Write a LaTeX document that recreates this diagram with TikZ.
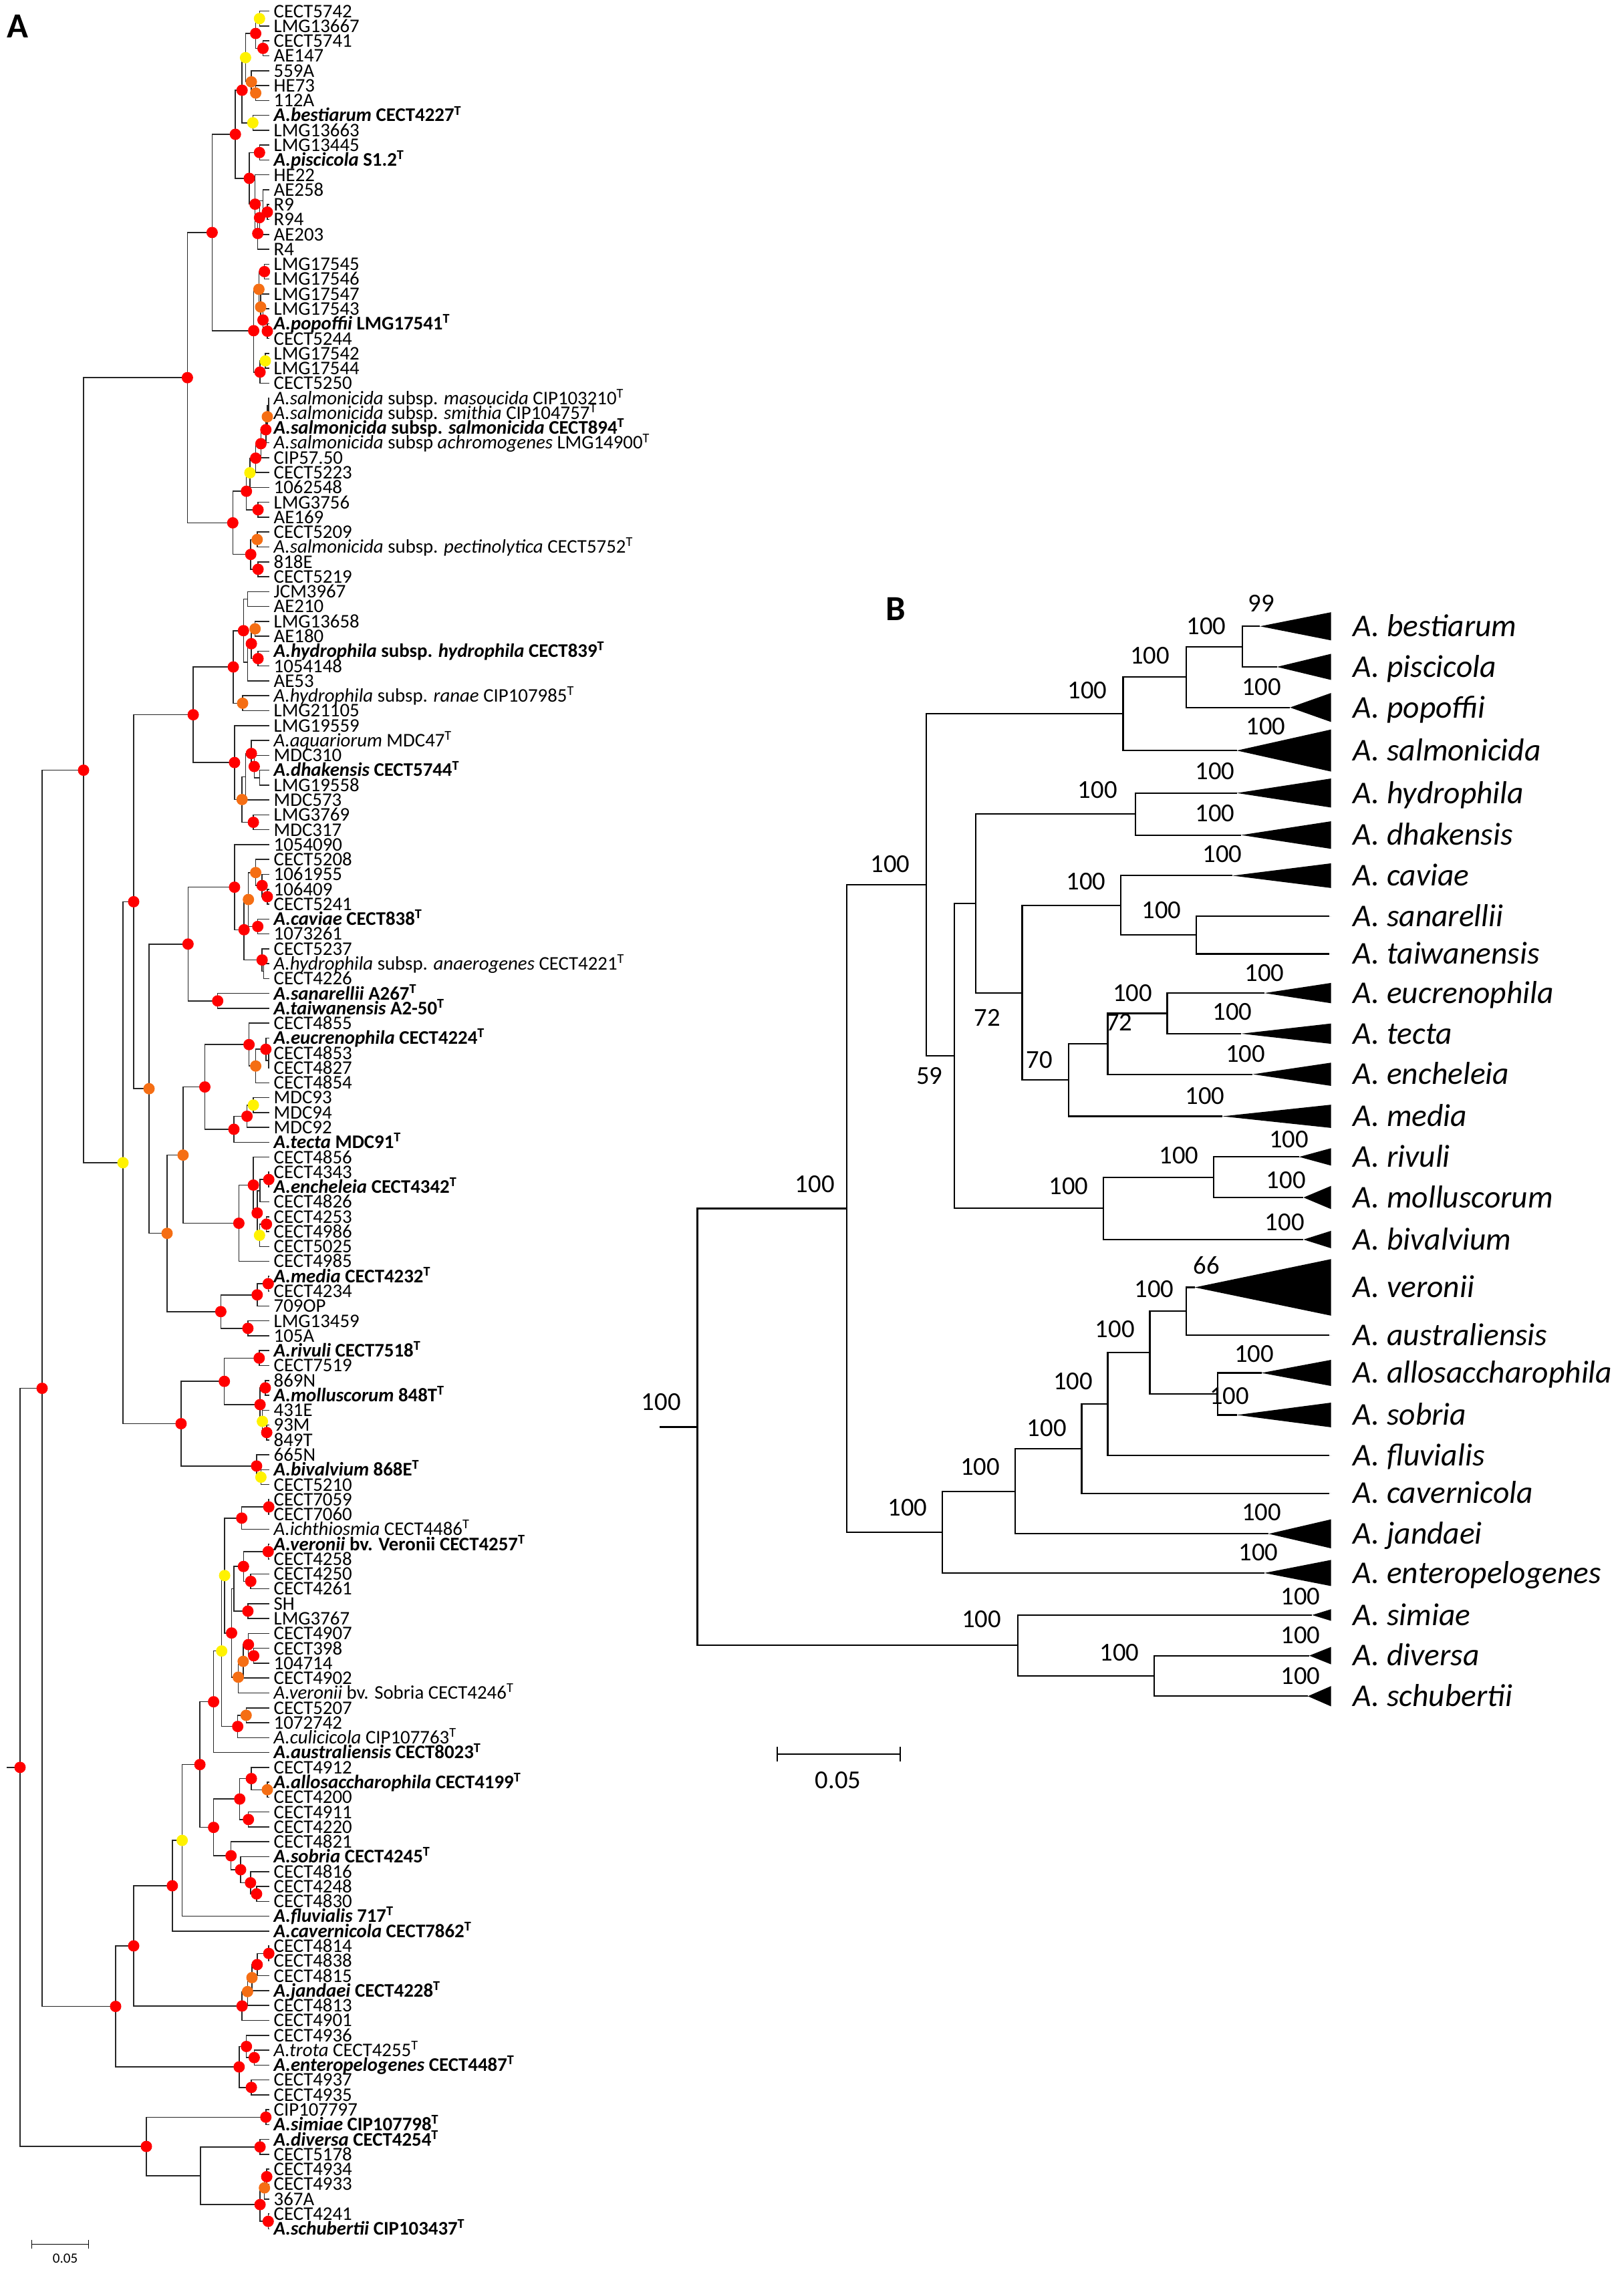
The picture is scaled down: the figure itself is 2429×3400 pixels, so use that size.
\documentclass[tikz,border=0pt]{standalone}
\usepackage{fontspec}
\setmainfont{Carlito}
\usetikzlibrary{calc}
\definecolor{dotorange}{RGB}{245,110,20}
\newcommand\ty{\textsuperscript{T}}
\newcommand\tsp[2]{\textbf{\textit{#1} #2\ty}}
\newcommand\nsp[2]{\textit{#1} #2\ty}
% join two children at horizontal position #2
\newcommand\jn[4]{%
  \coordinate (#1m) at ($(#3)!.5!(#4)$);
  \coordinate (#1) at (#1m -| #2,0);
  \draw[branch] (#3) -| (#1) |- (#4);}

\begin{document}
\begin{tikzpicture}[x=0.01cm,y=-0.01cm,
  branch/.style={draw=black!85,line width=0.45pt},
  leaf node/.style={anchor=west,inner sep=0pt,xshift=0.06cm,font=\fontsize{8.2}{8.2}\selectfont,text height=5.3pt,text depth=0pt},
  red node/.style={circle,fill=red,inner sep=0pt,minimum size=0.17cm},
  orange node/.style={red node,fill=dotorange},
  yellow node/.style={red node,fill=yellow},
  sp node/.style={anchor=west,inner sep=0pt,font=\fontsize{13.5}{14}\selectfont\itshape,text height=8.7pt,text depth=0pt},
  boot node/.style={inner sep=0pt,font=\fontsize{11}{11}\selectfont},
  panel node/.style={inner sep=0pt,font=\fontsize{15}{15}\selectfont\bfseries}]
\useasboundingbox (0,0) rectangle (2429,3400);

% ---- panel A
\begin{scope}[y=-0.2226cm,yshift=0.0556cm]
\foreach \t [count=\i] in {CECT5742, LMG13667, CECT5741, AE147, 559A, HE73, 112A,
  \tsp{A.bestiarum}{CECT4227}, LMG13663, LMG13445, \tsp{A.piscicola}{S1.2}, HE22, AE258, R9, R94, AE203, R4,
  LMG17545, LMG17546, LMG17547, LMG17543, \tsp{A.popoffii}{LMG17541}, CECT5244, LMG17542, LMG17544, CECT5250,
  \textit{A.salmonicida} subsp. \textit{masoucida} CIP103210\ty,
  \textit{A.salmonicida} subsp. \textit{smithia} CIP104757\ty,
  \textbf{\textit{A.salmonicida} subsp. \textit{salmonicida} CECT894\ty},
  \textit{A.salmonicida} subsp \textit{achromogenes} LMG14900\ty,
  CIP57.50, CECT5223, 1062548, LMG3756, AE169, CECT5209,
  \textit{A.salmonicida} subsp. \textit{pectinolytica} CECT5752\ty,
  818E, CECT5219, JCM3967, AE210, LMG13658, AE180,
  \textbf{\textit{A.hydrophila} subsp. \textit{hydrophila} CECT839\ty},
  1054148, AE53, \textit{A.hydrophila} subsp. \textit{ranae} CIP107985\ty,
  LMG21105, LMG19559, \nsp{A.aquariorum}{MDC47}, MDC310, \tsp{A.dhakensis}{CECT5744}, LMG19558, MDC573, LMG3769, MDC317,
  1054090, CECT5208, 1061955, 106409, CECT5241, \tsp{A.caviae}{CECT838}, 1073261, CECT5237,
  \textit{A.hydrophila} subsp. \textit{anaerogenes} CECT4221\ty,
  CECT4226, \tsp{A.sanarellii}{A267}, \tsp{A.taiwanensis}{A2-50},
  CECT4855, \tsp{A.eucrenophila}{CECT4224}, CECT4853, CECT4827, CECT4854, MDC93, MDC94, MDC92, \tsp{A.tecta}{MDC91},
  CECT4856, CECT4343, \tsp{A.encheleia}{CECT4342}, CECT4826, CECT4253, CECT4986, CECT5025, CECT4985,
  \tsp{A.media}{CECT4232}, CECT4234, 709OP, LMG13459, 105A,
  \tsp{A.rivuli}{CECT7518}, CECT7519, 869N, \tsp{A.molluscorum}{848T}, 431E, 93M, 849T, 665N, \tsp{A.bivalvium}{868E}, CECT5210,
  CECT7059, CECT7060, \nsp{A.ichthiosmia}{CECT4486}, \textbf{\textit{A.veronii} bv. Veronii CECT4257\ty},
  CECT4258, CECT4250, CECT4261, SH, LMG3767, CECT4907, CECT398, 104714, CECT4902,
  \textit{A.veronii} bv. Sobria CECT4246\ty, CECT5207, 1072742, \nsp{A.culicicola}{CIP107763}, \tsp{A.australiensis}{CECT8023},
  CECT4912, \tsp{A.allosaccharophila}{CECT4199}, CECT4200, CECT4911, CECT4220, CECT4821, \tsp{A.sobria}{CECT4245},
  CECT4816, CECT4248, CECT4830, \tsp{A.fluvialis}{717}, \tsp{A.cavernicola}{CECT7862},
  CECT4814, CECT4838, CECT4815, \tsp{A.jandaei}{CECT4228}, CECT4813, CECT4901,
  CECT4936, \nsp{A.trota}{CECT4255}, \tsp{A.enteropelogenes}{CECT4487}, CECT4937, CECT4935,
  CIP107797, \tsp{A.simiae}{CIP107798}, \tsp{A.diversa}{CECT4254}, CECT5178, CECT4934, CECT4933, 367A, CECT4241,
  \tsp{A.schubertii}{CIP103437}}{
  \coordinate (t\i) at (403,\i);
  \node[leaf node] (l\i) at (t\i) {\t};
}
% bestiarum, piscicola
\jn{be1}{388.3}{t1}{t2}   \jn{be2}{393.5}{t3}{t4}   \jn{be3}{382.6}{be1}{be2}
\jn{be4}{382.6}{t6}{t7}   \jn{be5}{376.1}{t5}{be4}  \jn{be6}{367.4}{be3}{be5}
\jn{be7}{378.3}{t8}{t9}   \jn{be8}{362.2}{be6}{be7}
\jn{pi1}{388.3}{t10}{t11} \jn{pi2}{400}{t14}{t15}   \jn{pi3}{393.5}{t13}{pi2}
\jn{pi4}{388.3}{pi3}{t16} \jn{pi5}{385.7}{pi4}{t17} \jn{pi6}{381.7}{t12}{pi5}
\jn{pi7}{373}{pi1}{pi6}   \jn{be9}{352.2}{be8}{pi7}
% popoffii
\jn{po1}{395.7}{t18}{t19} \jn{po2}{400}{t22}{t23}   \jn{po3}{393.5}{t21}{po2}
\jn{po4}{390}{t20}{po3}   \jn{po5}{387.4}{po1}{po4} \jn{po6}{397}{t24}{t25}
\jn{po7}{389.1}{po6}{t26} \jn{po8}{379.6}{po5}{po7} \jn{bp}{317.4}{be9}{po8}
% salmonicida
\jn{sa1}{402.2}{t27}{t28} \jn{sa2}{400}{sa1}{t29}   \jn{sa3}{397.8}{sa2}{t30}
\jn{sa4}{390.4}{sa3}{t31} \jn{sa5}{382.6}{sa4}{t32} \jn{sa6}{373.9}{sa5}{t33}
\jn{sa7}{386.1}{t34}{t35} \jn{sa8}{368.7}{sa6}{sa7} \jn{sa9}{384.8}{t36}{t37}
\jn{sa10}{386.1}{t38}{t39} \jn{sa11}{375.2}{sa9}{sa10} \jn{sa12}{348.3}{sa8}{sa11}
\jn{bps}{280.4}{bp}{sa12}
% hydrophila, dhakensis
\jn{hy1}{370.4}{t40}{t41} \jn{hy2}{381.7}{t42}{t43} \jn{hy3}{386.1}{t44}{t45}
\jn{hy4}{376.1}{hy2}{hy3} \jn{hy5}{370.4}{hy4}{t46} \jn{hy6}{364.3}{hy1}{hy5}
\jn{hy7}{363}{t47}{t48}   \jn{hy8}{349.1}{hy6}{hy7}
\jn{dh1}{388.3}{t52}{t53} \jn{dh2}{380.4}{t51}{dh1} \jn{dh3}{376.1}{t50}{dh2}
\jn{dh4}{367.4}{dh3}{t54} \jn{dh5}{379.1}{t55}{t56} \jn{dh6}{362.2}{dh4}{dh5}
\jn{dh7}{350.9}{t49}{dh6} \jn{hd}{289.1}{hy8}{dh7}
% caviae, sanarellii, taiwanensis
\jn{ca1}{400}{t60}{t61}   \jn{ca2}{392.2}{t59}{ca1} \jn{ca3}{382.6}{t58}{ca2}
\jn{ca4}{385.7}{t62}{t63} \jn{ca5}{371.7}{ca3}{ca4} \jn{ca6}{394.3}{t65}{t66}
\jn{ca7}{392.2}{t64}{ca6} \jn{ca8}{365.2}{ca5}{ca7} \jn{ca9}{350.9}{t57}{ca8}
\jn{st}{325.7}{t67}{t68}  \jn{cst}{281.3}{ca9}{st}
% eucrenophila, tecta, encheleia, media
\jn{eu1}{402.2}{t71}{t72} \jn{eu2}{397.8}{t70}{eu1} \jn{eu3}{382.6}{eu2}{t73}
\jn{eu4}{372.6}{t69}{eu3} \jn{te1}{379.1}{t74}{t75} \jn{te2}{369.6}{te1}{t76}
\jn{te3}{350}{te2}{t77}   \jn{et}{306.5}{eu4}{te3}
\jn{en1}{402.2}{t79}{t80} \jn{en2}{389.1}{en1}{t81} \jn{en3}{398.7}{t82}{t83}
\jn{en4}{388.3}{en3}{t84} \jn{en5}{384.8}{en2}{en4} \jn{en6}{379.1}{t78}{en5}
\jn{en7}{357.4}{en6}{t85} \jn{ete}{273.9}{et}{en7}
\jn{me1}{401.3}{t86}{t87} \jn{me2}{384.8}{me1}{t88} \jn{me3}{370.9}{t89}{t90}
\jn{me4}{330.4}{me2}{me3} \jn{em}{250}{ete}{me4}
% rivuli, molluscorum, bivalvium
\jn{ri1}{387.8}{t91}{t92} \jn{mo1}{397}{t93}{t94}   \jn{mo2}{399.1}{t96}{t97}
\jn{mo3}{392.6}{t95}{mo2} \jn{mo4}{389.1}{mo1}{mo3} \jn{rm}{335.7}{ri1}{mo4}
\jn{bi1}{390.4}{t99}{t100} \jn{bi2}{383.9}{t98}{bi1} \jn{rmb}{270.9}{rm}{bi2}
\jn{k3}{223}{cst}{em}     \jn{k2}{200}{hd}{k3}     \jn{k1}{184}{k2}{rmb}
\jn{ag}{125}{bps}{k1}
% veronii and relatives
\jn{ve1}{402.2}{t101}{t102} \jn{ve2}{361.7}{ve1}{t103} \jn{ve3}{401.3}{t104}{t105}
\jn{ve4}{375.2}{t106}{t107} \jn{ve5}{364.3}{ve3}{ve4}  \jn{ve6}{370.9}{t108}{t109}
\jn{ve7}{350}{ve5}{ve6}     \jn{ve8}{379.6}{t111}{t112} \jn{ve9}{371.7}{t110}{ve8}
\jn{ve10}{363.9}{ve9}{t113} \jn{ve11}{356.5}{ve10}{t114} \jn{ve12}{346.5}{ve7}{ve11}
\jn{ve13}{336.1}{ve2}{ve12} \jn{cu1}{368.3}{t115}{t116} \jn{cu2}{355.7}{cu1}{t117}
\jn{ve14}{331.7}{ve13}{cu2} \jn{ve15}{319.6}{ve14}{t118}
\jn{al1}{400}{t120}{t121}   \jn{al2}{376.1}{t119}{al1} \jn{al3}{371.7}{t122}{t123}
\jn{al4}{358.7}{al2}{al3}   \jn{so1}{383.9}{t127}{t128} \jn{so2}{374.8}{t126}{so1}
\jn{so3}{360}{t125}{so2}    \jn{so4}{345.7}{t124}{so3} \jn{as}{319.6}{al4}{so4}
\jn{vas}{299.1}{ve15}{as}   \jn{vf}{272.6}{vas}{t129}  \jn{vc}{257.8}{vf}{t130}
% jandaei, enteropelogenes
\jn{ja1}{402.2}{t131}{t132} \jn{ja2}{384.8}{ja1}{t133} \jn{ja3}{377}{ja2}{t134}
\jn{ja4}{370.4}{ja3}{t135}  \jn{ja5}{362.2}{ja4}{t136} \jn{vj}{200}{vc}{ja5}
\jn{tr1}{380.4}{t138}{t139} \jn{tr2}{368.7}{t137}{tr1} \jn{tr3}{376.1}{t140}{t141}
\jn{tr4}{357.8}{tr2}{tr3}   \jn{ve}{173}{vj}{tr4}      \jn{top}{63}{ag}{ve}
% simiae, diversa, schubertii
\jn{si1}{397.8}{t142}{t143} \jn{di1}{389.1}{t144}{t145} \jn{sc1}{401.3}{t149}{t150}
\jn{sc2}{399.1}{t146}{t147} \jn{sc3}{395.7}{sc2}{t148} \jn{sc4}{389.1}{sc3}{sc1}
\jn{ds}{300}{di1}{sc4}      \jn{sds}{219}{si1}{ds}     \jn{root}{30}{top}{sds}
\draw[branch] (root) -- ++(-20,0);

\foreach \n in {be2,be3,be8,pi1,pi2,pi4,pi5,pi6,pi7,be9,po1,po2,po3,po7,po8,bp,sa3,sa4,sa5,sa7,sa8,
  sa10,sa11,sa12,bps,hy3,hy4,hy6,hy8,dh2,dh3,dh5,dh7,hd,ca1,ca2,ca4,ca7,ca8,ca9,st,cst,eu2,eu4,te2,te3,
  et,en1,en3,en5,en6,en7,me1,me2,me3,me4,ri1,mo1,mo2,mo4,rm,bi2,rmb,k2,ag,ve1,ve2,ve3,ve4,ve5,ve6,ve8,
  ve9,ve12,cu2,ve15,al2,al3,al4,so1,so2,so3,so4,as,vas,vc,ja1,ja2,ja5,vj,tr1,tr2,tr3,tr4,ve,top,si1,
  di1,sc1,sc2,sc4,sds,root}
  \node[red node] (d\n) at (\n) {};
\foreach \n in {be1,be6,be7,po6,sa6,te1,en4,mo3,bi1,ve13,ve14,vf,k1}
  \node[yellow node] (d\n) at (\n) {};
\foreach \n in {be4,be5,po4,po5,sa2,sa9,hy2,hy7,dh6,ca3,ca5,eu3,ete,em,ve10,ve11,cu1,al1,ja3,ja4,sc3,k3}
  \node[orange node] (d\n) at (\n) {};
\end{scope}

% ---- panel B
\begin{scope}[x=0.021688cm,y=-0.021684cm,branch/.append style={draw=black,line width=0.6pt}]
\node[panel node] (pA) at (12,18) {A};
\node[panel node] (pB) at (618,420) {B};
\foreach \n/\x/\y/\h/\s in {bes/869/432/9.7/bestiarum, pis/880.7/460/9/piscicola, pop/889.7/488/10/popoffii,
  sal/853/517.7/14.5/salmonicida, hyd/853/547/10/hydrophila, dha/856/576/9.5/dhakensis, cav/850/604/8.5/caviae,
  san/917/632/0/sanarellii, tai/917/658/0/taiwanensis, euc/872/685/7/eucrenophila, tec/856/713/7/tecta,
  enc/864/741/8/encheleia, med/843/770/8/media, riv/896/798/6/rivuli, mol/899/826/8/molluscorum,
  biv/899/855/6/bivalvium, ver/824/888/19.5/veronii, aus/917/921/0/australiensis,
  all/870/947/9/allosaccharophila, sob/853/976/8.5/sobria, flu/917/1004/0/fluvialis,
  cve/917/1030/0/cavernicola, jan/875/1058/10/jandaei, ent/872/1085/9/enteropelogenes,
  sim/905/1114/4/simiae, div/903/1142/6/diversa, sch/902/1170/7/schubertii}{
  \coordinate (\n) at (\x,\y);
  \fill (\n) -- (918,{\y-\h}) -- (918,{\y+\h}) -- cycle;
  \node[sp node] (n\n) at (933,\y) {A. \s};
}
\jn{Bbp}{857}{bes}{pis}    \jn{Bbpp}{818}{Bbp}{pop}  \jn{Bbs}{774.6}{Bbpp}{sal}
\jn{Bhd}{783}{hyd}{dha}    \jn{Bst}{825}{san}{tai}   \jn{Bcv}{773}{cav}{Bst}
\jn{Bet}{805}{euc}{tec}    \jn{Ben}{764}{Bet}{enc}   \jn{Bme}{737}{Ben}{med}
\jn{Bcm}{705}{Bcv}{Bme}    \jn{Bhc}{672.8}{Bhd}{Bcm} \jn{Brm}{837}{riv}{mol}
\jn{Brb}{761}{Brm}{biv}    \jn{Bfs}{658}{Bhc}{Brb}   \jn{Bup}{638.7}{Bbs}{Bfs}
\jn{Bva}{818}{ver}{aus}    \jn{Bas}{840}{all}{sob}   \jn{Bvs}{793}{Bva}{Bas}
\jn{Bvf}{764}{Bvs}{flu}    \jn{Bvc}{746}{Bvf}{cve}   \jn{Bvj}{700}{Bvc}{jan}
\jn{Bve}{650}{Bvj}{ent}    \jn{Bu}{584}{Bup}{Bve}
\jn{Bds}{796}{div}{sch}    \jn{Bsd}{702}{sim}{Bds}   \jn{Broot}{481}{Bu}{Bsd}
\draw[branch] (Broot) -- ++(-26,0);

\foreach \x/\y/\v [count=\k] in {870/416/99, 832/432/100, 793/452/100, 870/474/100, 750/476/100,
  873/501/100, 757/545/100, 838/532/100, 838/561/100, 843/589/100, 614/596/100, 749/608/100,
  801/628/100, 872/671/100, 781/685/100, 681/702/72, 772/705/72, 850/698/100, 717/731/70,
  859/727/100, 641/742/59, 831/756/100, 889/786/100, 813/797/100, 887/814/100, 737/818/100,
  562/817/100, 886/843/100, 832/873/66, 796/889/100, 769/917/100, 865/934/100, 740/953/100,
  848/963/100, 722/985/100, 456/967/100, 676/1012/100, 626/1040/100, 870/1043/100, 868/1071/100,
  677/1117/100, 897/1101/100, 772/1140/100, 897/1128/100, 897/1156/100}
  \node[boot node] (bv\k) at (\x,\y) {\v};

% scale bars
\coordinate (sa) at (22,1548);  \coordinate (sb) at (61,1548);
\draw[line width=0.4pt] (sa) -- (sb) (sa) ++(0,-3) -- ++(0,6) (sb) ++(0,-3) -- ++(0,6);
\node[inner sep=0pt,font=\fontsize{6}{6}\selectfont] (sl) at (45,1558) {0.05};
\coordinate (sc) at (536,1210); \coordinate (sd) at (621,1210);
\draw[line width=0.6pt] (sc) -- (sd) (sc) ++(0,-5) -- ++(0,10) (sd) ++(0,-5) -- ++(0,10);
\node[boot node] (sl2) at (578,1228) {0.05};
\end{scope}
\end{tikzpicture}
\end{document}
